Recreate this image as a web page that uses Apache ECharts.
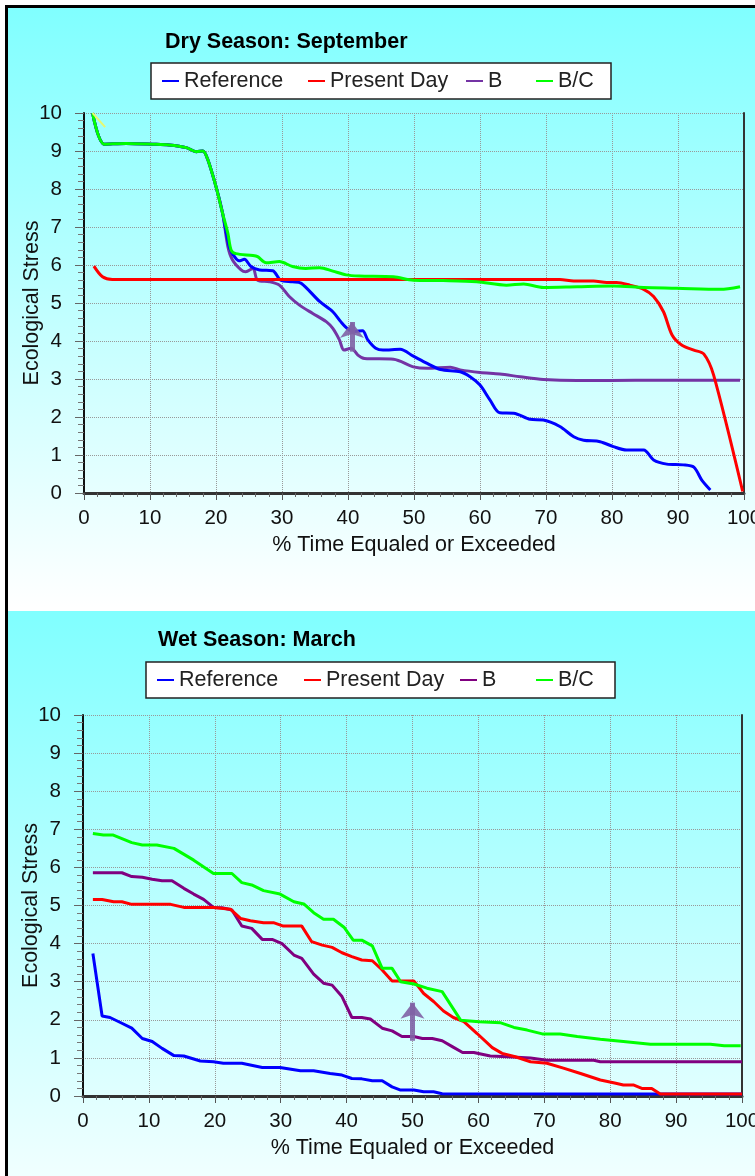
<!DOCTYPE html>
<html>
<head>
<meta charset="utf-8">
<script src="https://cdn.jsdelivr.net/npm/echarts@6/dist/echarts.min.js"></script>
<style>
html,body{margin:0;padding:0;background:#fff;}
#chart{width:755px;height:1176px;}
</style>
</head>
<body>
<div id="chart"></div>
<script>
// ---------- data ----------
const seriesNames = ['Reference', 'Present Day', 'B', 'B/C'];
const xTicks = [0, 10, 20, 30, 40, 50, 60, 70, 80, 90, 100];
const yTicks = [0, 1, 2, 3, 4, 5, 6, 7, 8, 9, 10];

// Dry Season: September  ([% time, stress])
const dryReference = [[1.3,10.0],[3.1,9.18],[6.4,9.2],[10.4,9.18],[12.9,9.16],[15.5,9.09],[17,8.98],[18,9.0],[18.7,8.8],[20,8.06],[21,7.36],[22,6.48],[22.8,6.22],[23.5,6.11],[24.3,6.15],[25.3,5.96],[26.6,5.87],[28.6,5.85],[29.8,5.6],[31.6,5.56],[32.9,5.52],[35.7,5.04],[37.7,4.77],[38.9,4.51],[39.9,4.33],[41,4.25],[42.2,4.27],[43,4.03],[44.2,3.81],[45.3,3.76],[47.9,3.78],[49.9,3.6],[52,3.41],[54,3.25],[57,3.19],[58.5,3.06],[60,2.84],[61.5,2.45],[63,2.11],[65.1,2.1],[67.6,1.94],[69.6,1.92],[72.1,1.75],[74.2,1.48],[75.7,1.39],[78.2,1.35],[80.2,1.22],[82.2,1.13],[84.8,1.13],[86.3,0.87],[88.3,0.76],[90.8,0.74],[92.4,0.68],[93.6,0.34],[94.9,0.08]];
const dryPresent = [[1.5,5.97],[2.8,5.69],[4.3,5.62],[72.1,5.62],[74.2,5.58],[77.2,5.58],[79.2,5.54],[80.7,5.54],[82.7,5.47],[84.8,5.36],[86.3,5.17],[87.8,4.77],[89.1,4.16],[90.6,3.89],[92.4,3.76],[93.9,3.66],[95.4,3.1],[99.8,0.04]];
const dryB = [[1.3,10.0],[3.1,9.18],[6.4,9.2],[10.4,9.18],[12.9,9.16],[15.5,9.09],[17,8.98],[18,9.0],[18.7,8.8],[20,8.06],[21,7.36],[21.8,6.48],[22.5,6.13],[23.8,5.87],[24.5,5.82],[25.6,5.91],[26.3,5.6],[28.1,5.56],[29.6,5.47],[31.1,5.17],[32.6,4.95],[34.6,4.73],[36.7,4.51],[37.7,4.33],[38.7,4.03],[39.4,3.76],[40.5,3.81],[41.5,3.63],[42.5,3.54],[46.9,3.52],[49.9,3.32],[52,3.28],[55.5,3.31],[57,3.24],[60,3.17],[63,3.13],[66.1,3.06],[69.6,2.99],[74.7,2.96],[79.7,2.96],[87.3,2.97],[99.4,2.97]];
const dryBC = [[1.3,10.0],[3.1,9.18],[6.4,9.2],[10.4,9.18],[12.9,9.16],[15.5,9.09],[17,8.98],[18,9.0],[18.7,8.8],[20,8.06],[21,7.36],[21.8,6.83],[22.3,6.39],[23,6.3],[25.6,6.25],[26.3,6.22],[27.6,6.06],[29.6,6.09],[31.6,5.96],[33.6,5.91],[35.7,5.93],[37.7,5.84],[39.7,5.74],[41.7,5.71],[46.9,5.69],[49.9,5.6],[54.4,5.59],[59.5,5.56],[64,5.47],[66.6,5.5],[69.6,5.41],[74.7,5.43],[80.2,5.45],[84.8,5.41],[89.8,5.39],[96.4,5.36],[99.4,5.43]];
const dryStub = [[1.3,10.0],[3.2,9.63]];
const dryArrow = [[40.6,3.72],[40.6,4.5]];

// Wet Season: March
const wetReference = [[1.5,3.74],[2.9,2.1],[4.1,2.06],[5.9,1.91],[7.4,1.78],[9,1.51],[10.5,1.43],[12,1.25],[13.8,1.06],[15.3,1.05],[17.8,0.92],[19.8,0.9],[21.3,0.86],[24.1,0.86],[27.2,0.75],[29.9,0.75],[33,0.66],[35,0.66],[37.5,0.59],[39.3,0.55],[40.8,0.46],[42.3,0.45],[43.9,0.4],[45.4,0.4],[46.9,0.24],[48.1,0.16],[50.2,0.16],[51.7,0.11],[53.2,0.11],[54.5,0.06],[100,0.05]];
const wetPresent = [[1.5,5.16],[2.9,5.16],[4.65,5.1],[5.9,5.1],[7.4,5.03],[13.3,5.03],[15.3,4.95],[19.8,4.95],[22.4,4.9],[23.9,4.66],[25.4,4.6],[27.4,4.55],[28.9,4.55],[30.4,4.46],[33.2,4.46],[34.7,4.05],[36.3,3.96],[37.8,3.9],[39.3,3.76],[40.8,3.66],[42.3,3.57],[43.9,3.55],[45.4,3.31],[46.9,3.02],[48.1,3.02],[50.2,3.02],[51.7,2.69],[53.2,2.48],[54.7,2.23],[56.2,2.06],[57.8,1.95],[59.8,1.64],[62.1,1.27],[63.6,1.12],[65.6,1.03],[67.9,0.9],[70.4,0.86],[72.9,0.73],[75.5,0.59],[78.5,0.42],[80.5,0.35],[82,0.29],[83.5,0.29],[84.8,0.2],[86.3,0.2],[87.6,0.05],[100,0.05]];
const wetB = [[1.5,5.86],[5.9,5.86],[7.4,5.76],[9,5.74],[10.5,5.69],[12,5.65],[13.5,5.65],[15.3,5.45],[16.8,5.3],[18.3,5.16],[19.8,4.95],[21.1,4.94],[22.6,4.88],[24.1,4.46],[25.6,4.4],[27.2,4.11],[28.7,4.11],[30.2,4.0],[32,3.7],[33.2,3.61],[35,3.2],[36.5,2.96],[37.8,2.91],[39.3,2.61],[40.8,2.06],[42.3,2.06],[43.6,2.02],[45.4,1.78],[46.9,1.71],[48.4,1.56],[50.2,1.56],[51.5,1.51],[53,1.51],[54.5,1.45],[56.1,1.29],[57.6,1.14],[59.3,1.14],[61.8,1.05],[64.4,1.03],[67.9,1.0],[70.4,0.94],[77.5,0.94],[78.5,0.9],[100,0.9]];
const wetBC = [[1.5,6.89],[3.1,6.85],[4.6,6.85],[7.4,6.65],[9,6.59],[11.2,6.59],[13.8,6.5],[16.8,6.19],[19.8,5.84],[22.6,5.84],[24.1,5.6],[25.6,5.54],[27.4,5.39],[29.9,5.3],[32,5.1],[33.5,5.04],[35,4.81],[36.5,4.64],[38,4.64],[39.6,4.43],[41,4.09],[42.3,4.09],[43.9,3.94],[45.4,3.35],[46.9,3.35],[48.2,3.0],[50.2,2.94],[52.2,2.83],[54.5,2.74],[57.3,1.99],[60.1,1.95],[63.4,1.92],[65.4,1.8],[67.4,1.73],[69.7,1.63],[72.4,1.63],[75,1.56],[78.5,1.49],[82,1.43],[86.1,1.36],[95.2,1.36],[97.3,1.32],[99.8,1.32]];
const wetArrow = [[50,1.45],[50,2.45]];

// ---------- styling ----------
const FONT = '"Liberation Sans", Arial, sans-serif';
const C_REF = '#0000ff', C_PRES = '#ff0000', C_BC = '#00ff00';
const C_B_DRY = '#7434a4', C_B_WET = '#800080';
const ARROW = 'rgba(128,98,165,0.9)';

const chart = echarts.init(document.getElementById('chart'), null, {renderer: 'canvas'});

function xAxisCfg(gi) {
  return {
    type: 'value', gridIndex: gi, min: 0, max: 100, interval: 10,
    axisLine: {show: true, onZero: false, lineStyle: {color: '#333', width: 3}},
    axisTick: {show: true, length: 7, inside: false, lineStyle: {color: '#555', width: 1}},
    minorTick: {show: true, splitNumber: 5, length: 4, lineStyle: {color: '#666', width: 1}},
    axisLabel: {fontSize: 20.5, color: '#111', margin: 15, fontFamily: FONT,
      formatter: v => xTicks.indexOf(v) >= 0 ? String(v) : ''},
    splitLine: {show: true, lineStyle: {type: 'dotted', color: '#999', width: 1}},
    name: '% Time Equaled or Exceeded', nameLocation: 'middle', nameGap: 41,
    nameMoveOverlap: false,
    nameTextStyle: {fontSize: 21.5, color: '#111', fontFamily: FONT}
  };
}
function yAxisCfg(gi) {
  return {
    type: 'value', gridIndex: gi, min: 0, max: 10, interval: 1,
    axisLine: {show: true, lineStyle: {color: '#111', width: 2}},
    axisTick: {show: true, length: 9, lineStyle: {color: '#666', width: 1}},
    minorTick: {show: true, splitNumber: 5, length: 6, lineStyle: {color: '#777', width: 1}},
    axisLabel: {fontSize: 20.5, color: '#111', margin: 22, fontFamily: FONT,
      formatter: v => yTicks.indexOf(v) >= 0 ? String(v) : ''},
    splitLine: {show: true, lineStyle: {type: 'dotted', color: '#999', width: 1}},
    name: 'Ecological Stress', nameLocation: 'middle', nameGap: 41, nameRotate: 90,
    nameMoveOverlap: false,
    nameTextStyle: {fontSize: 21.5, color: '#111', fontFamily: FONT}
  };
}
function yRightCfg(gi) {
  return {
    type: 'value', gridIndex: gi, min: 0, max: 10, position: 'right',
    axisLine: {show: true, lineStyle: {color: '#333', width: 2}},
    axisTick: {show: false}, axisLabel: {show: false}, splitLine: {show: false}
  };
}
function line(name, data, color, xi, yi, smooth, z) {
  return {
    type: 'line', name: name, data: data, xAxisIndex: xi, yAxisIndex: yi,
    showSymbol: false, symbol: 'none', smooth: smooth, z: z,
    lineStyle: {color: color, width: 3}, itemStyle: {color: color},
    emphasis: {disabled: true}, silent: true
  };
}
function arrowSeries(coords, xi, yi) {
  return {
    type: 'line', data: [], xAxisIndex: xi, yAxisIndex: yi, z: 20, silent: true,
    markLine: {
      silent: true, animation: false,
      symbol: ['none', 'arrow'], symbolSize: [18, 16],
      label: {show: false},
      lineStyle: {color: ARROW, width: 5, type: 'solid', cap: 'butt'},
      emphasis: {disabled: true},
      data: [[{coord: coords[0]}, {coord: coords[1]}]]
    }
  };
}
function legendItem(name, left, top, color) {
  return {
    left: left, top: top, padding: 0, itemGap: 0, orient: 'horizontal',
    icon: 'rect', itemWidth: 17, itemHeight: 2, selectedMode: false,
    textStyle: {fontSize: 21.5, color: '#222', fontFamily: FONT},
    data: [{name: name, itemStyle: {color: color}}]
  };
}

const option = {
  animation: false,
  backgroundColor: '#ffffff',
  graphic: [
    {type: 'rect', z: -10, shape: {x: 8, y: 8, width: 747, height: 600},
      style: {fill: new echarts.graphic.LinearGradient(0, 0, 0, 1, [
        {offset: 0, color: '#80ffff'}, {offset: 1, color: '#ffffff'}])}},
    {type: 'rect', z: -10, shape: {x: 8, y: 611, width: 747, height: 565},
      style: {fill: new echarts.graphic.LinearGradient(0, 0, 0, 1, [
        {offset: 0, color: '#80ffff'}, {offset: 1, color: '#f0ffff'}])}},
    {type: 'line', z: 5, shape: {x1: 6.5, y1: 5, x2: 6.5, y2: 1176}, style: {stroke: '#000', lineWidth: 3}},
    {type: 'line', z: 5, shape: {x1: 5, y1: 6.5, x2: 755, y2: 6.5}, style: {stroke: '#000', lineWidth: 3}},
    {type: 'rect', z: 1, shape: {x: 151, y: 63, width: 460, height: 36},
      style: {fill: '#ffffff', stroke: '#222', lineWidth: 1.5}},
    {type: 'rect', z: 1, shape: {x: 146, y: 662, width: 469, height: 36},
      style: {fill: '#ffffff', stroke: '#222', lineWidth: 1.5}}
  ],
  title: [
    {text: 'Dry Season: September', left: 165, top: 31, padding: 0,
      textStyle: {fontSize: 21.5, fontWeight: 'bold', color: '#000', fontFamily: FONT}},
    {text: 'Wet Season: March', left: 158, top: 629, padding: 0,
      textStyle: {fontSize: 21.5, fontWeight: 'bold', color: '#000', fontFamily: FONT}}
  ],
  legend: [
    legendItem('Reference', 162, 70, C_REF),
    legendItem('Present Day', 308, 70, C_PRES),
    legendItem('B', 466, 70, C_B_DRY),
    legendItem('B/C', 536, 70, C_BC),
    legendItem('Reference', 157, 669, C_REF),
    legendItem('Present Day', 304, 669, C_PRES),
    legendItem('B', 460, 669, C_B_WET),
    legendItem('B/C', 536, 669, C_BC)
  ],
  grid: [
    {left: 84, top: 113, width: 660, height: 380, containLabel: false, outerBoundsMode: 'none'},
    {left: 83, top: 715, width: 659, height: 381, containLabel: false, outerBoundsMode: 'none'}
  ],
  xAxis: [xAxisCfg(0), xAxisCfg(1)],
  yAxis: [yAxisCfg(0), yRightCfg(0), yAxisCfg(1), yRightCfg(1)],
  series: [
    line('B', dryB, C_B_DRY, 0, 0, 0.3, 2),
    line('Reference', dryReference, C_REF, 0, 0, 0.3, 3),
    line('Present Day', dryPresent, C_PRES, 0, 0, 0.3, 4),
    line('B/C', dryBC, C_BC, 0, 0, 0.3, 5),
    line('', dryStub, '#e8f870', 0, 0, false, 6),
    arrowSeries(dryArrow, 0, 0),
    line('Reference', wetReference, C_REF, 1, 2, false, 2),
    line('B', wetB, C_B_WET, 1, 2, false, 3),
    line('Present Day', wetPresent, C_PRES, 1, 2, false, 4),
    line('B/C', wetBC, C_BC, 1, 2, false, 5),
    arrowSeries(wetArrow, 1, 2)
  ]
};
option.series[4].lineStyle.width = 2;
chart.setOption(option);
</script>
</body>
</html>
